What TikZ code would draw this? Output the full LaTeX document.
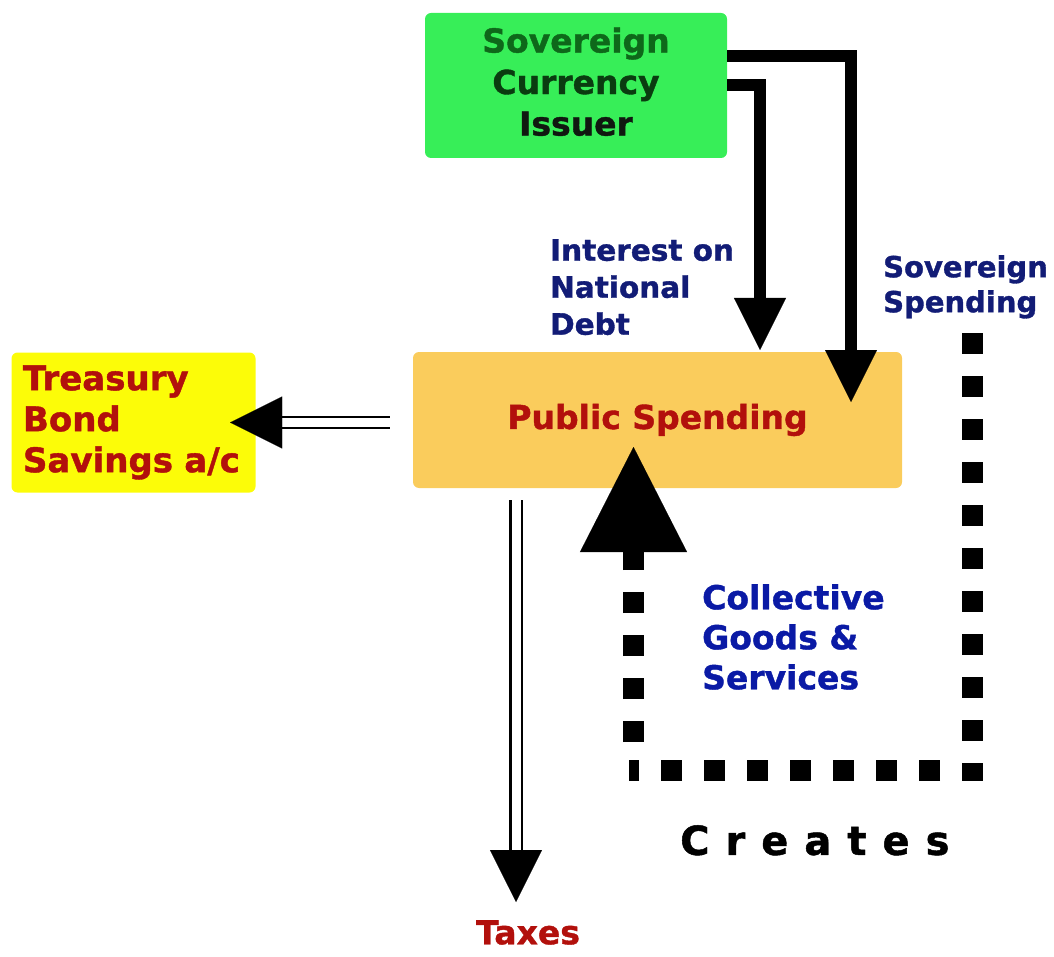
\documentclass[tikz,border=0pt]{standalone}
\usepackage{fontspec}
\setmainfont{DejaVu Sans}[BoldFeatures={FakeBold=1.2}]
\usetikzlibrary{arrows.meta,calc}
\definecolor{boxgreen}{RGB}{55,238,88}
\definecolor{boxorange}{RGB}{250,204,92}
\definecolor{boxyellow}{RGB}{252,252,8}
\definecolor{txtred}{RGB}{178,16,12}
\definecolor{txtnavy}{RGB}{18,28,118}
\definecolor{txtblue}{RGB}{10,26,165}
\definecolor{dkgreenA}{RGB}{14,104,26}
\definecolor{dkgreenB}{RGB}{10,60,16}
\definecolor{dkgreenC}{RGB}{16,24,16}
\tikzset{
  box/.style={rectangle, rounded corners=6pt, inner sep=0pt, draw=none},
  fatarrow/.style={line width=12pt, -{Triangle[length=52pt,width=52pt,line width=0.1pt]}},
  dblarrow/.style={double, double distance=9pt, line width=2.2pt, -{Triangle[length=52pt,width=52pt,line width=0.1pt]}},
  dotarrow/.style={line width=21pt, dash pattern=on 21pt off 22pt, -{Triangle[length=105pt,width=107pt,line width=0.1pt]}},
  lbl/.style={inner sep=0pt, font=\bfseries, align=left},
}
\newcommand{\fsz}[2]{\fontsize{#1}{#2}\selectfont}
\begin{document}
\begin{tikzpicture}[x=1pt,y=-1pt]
\useasboundingbox (0,0) rectangle (1054,957);
% boxes
\node[box, fill=boxgreen, minimum width=302pt, minimum height=145pt, align=center, font=\bfseries\fsz{33}{41.5}] (green) at (576,85.5)
  {\textcolor{dkgreenA}{Sovereign}\\\textcolor{dkgreenB}{Currency}\\\textcolor{dkgreenC}{Issuer}\rule[-8pt]{0pt}{0pt}};
\node[box, fill=boxorange, minimum width=489pt, minimum height=136pt, font=\bfseries\fsz{33}{40}, text=txtred] (ps) at (657.5,420) {Public Spending};
\node[box, fill=boxyellow, minimum width=244pt, minimum height=140pt, text width=221pt, align=left, font=\bfseries\fsz{34}{41}, text=txtred] (tb) at (133.5,422.5)
  {Treasury\\Bond\\Savings a/c};
% labels
\node[lbl, anchor=north west, font=\bfseries\fsz{29.5}{37}, text=txtnavy] (interest) at (550,239) {Interest on\\National\\Debt};
\node[lbl, anchor=north west, font=\bfseries\fsz{29}{35}, text=txtnavy] (sovsp) at (883,255) {Sovereign\\Spending};
\node[lbl, anchor=north west, font=\bfseries\fsz{33}{40}, text=txtblue] (coll) at (702,584) {Collective\\Goods \&\\Services};
\node[lbl, anchor=north, font=\bfseries\fsz{33}{37}, text=txtred] (taxes) at (528,920) {Taxes};
\node[lbl, anchor=north west, font=\bfseries\fsz{40}{48}, text=black] (creates) at (680,825)
  {C\hspace{16pt}r\hspace{16pt}e\hspace{16pt}a\hspace{16pt}t\hspace{16pt}e\hspace{16pt}s};
% coordinates
\coordinate (intip) at (760,350);
\coordinate (sovtip) at (851,402);
\coordinate (taxtip) at (516,902);
\coordinate (sp1) at (972.5,333);
\coordinate (sp2) at (972.5,781);
\coordinate (sp3) at (940,770.5);
\coordinate (sp4) at (629,770.5);
\coordinate (sp5) at (633.5,742);
\coordinate (colltip) at (633.5,447);
% connectors
\draw[fatarrow] (green.east) -| (intip);
\draw[fatarrow] ([yshift=29pt]green.east) -| (sovtip);
\draw[dblarrow] ([xshift=-23pt,yshift=-2.5pt]ps.west) -- ([xshift=-25.5pt]tb.east);
\draw[dblarrow] ($(ps.south -| taxtip)+(0,12)$) -- (taxtip);
\draw[dotarrow] (sp1) -- (sp2) (sp3) -- (sp4) (sp5) -- (colltip);
\end{tikzpicture}
\end{document}
